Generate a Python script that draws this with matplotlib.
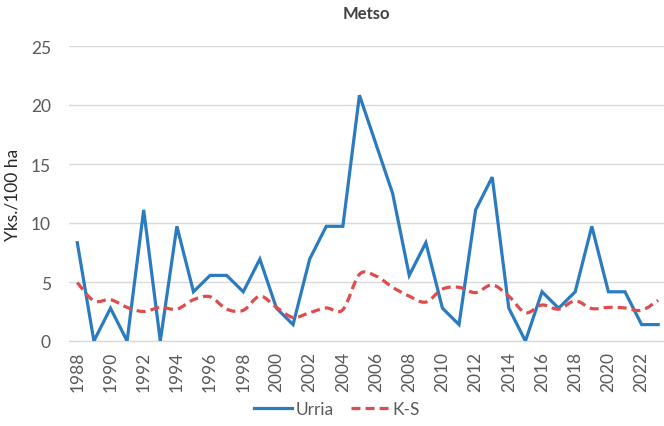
import numpy as np
import matplotlib.pyplot as plt
from matplotlib.path import Path
from matplotlib.patches import PathPatch
from matplotlib.lines import Line2D

plt.rcParams['font.family'] = ['Lato', 'DejaVu Sans']

# data
years = list(range(1988, 2024))
urria = [8.33, 0, 2.78, 0, 11.11, 0, 9.72, 4.17, 5.56, 5.56, 4.17, 6.94,
         2.78, 1.39, 6.94, 9.72, 9.72, 20.83, 16.67, 12.5, 5.56, 8.33,
         2.78, 1.39, 11.11, 13.89, 2.78, 0, 4.17, 2.78, 4.17, 9.72,
         4.17, 4.17, 1.39, 1.39]
ks = [4.95, 3.4, 3.5, 2.85, 2.5, 2.85, 2.7, 3.5, 3.75, 2.7, 2.6, 3.8,
      2.85, 2.0, 2.4, 2.8, 2.65, 5.65, 5.5, 4.55, 3.8, 3.3,
      4.4, 4.55, 4.1, 4.75, 3.8, 2.4, 3.05, 2.7, 3.4, 2.75,
      2.85, 2.8, 2.6, 3.45]
xticks = list(range(1988, 2023, 2))

blue = '#2A7BBF'
red = '#E04B4B'
grey = '#595959'
dash = (0, (2.8, 1.6))

fig = plt.figure(figsize=(6.64, 4.27), dpi=100)
ax = fig.add_axes([69/664, 1 - 342/427, 1 - 69/664, (342-47)/427])

ax.plot(years, urria, color=blue, lw=2.3, solid_joinstyle='miter', zorder=3)

# smoothed dashed line (bezier through the points, like Excel's smoothed line)
def smooth_path(x, y):
    pts = np.column_stack([x, y]).astype(float)
    n = len(pts)
    verts = [pts[0]]
    codes = [Path.MOVETO]
    for i in range(n - 1):
        p0 = pts[max(i - 1, 0)]
        p1 = pts[i]
        p2 = pts[i + 1]
        p3 = pts[min(i + 2, n - 1)]
        c1 = p1 + (p2 - p0) / 6
        c2 = p2 - (p3 - p1) / 6
        verts += [c1, c2, p2]
        codes += [Path.CURVE4] * 3
    return Path(verts, codes)

patch = PathPatch(smooth_path(years, ks), facecolor='none', edgecolor=red,
                  lw=2.3, linestyle=dash, zorder=4)
ax.add_patch(patch)

ax.set_xlim(1987.5, 2023.35)
ax.set_ylim(0, 25)
ax.set_yticks([0, 5, 10, 15, 20, 25])
ax.set_xticks(xticks)
ax.set_xticklabels([str(t) for t in xticks], rotation=90)
ax.tick_params(axis='both', length=0, labelsize=12.5, colors=grey)
ax.tick_params(axis='y', pad=13)
ax.tick_params(axis='x', pad=7)
ax.grid(axis='y', color='#D9D9D9', lw=1)
ax.set_axisbelow(True)
for s in ['top', 'right', 'left']:
    ax.spines[s].set_visible(False)
ax.spines['bottom'].set_color('#D9D9D9')
ax.spines['bottom'].set_linewidth(1)

fig.text(366/664, 1 - 14/427, 'Metso', ha='center', va='center',
         fontsize=12, fontweight='bold', color='#404040')
fig.text(13/664, 1 - 195/427, 'Yks./100 ha', rotation=90, ha='center',
         va='center', fontsize=12.5, color='#262626')

handles = [Line2D([], [], color=blue, lw=2.3),
           Line2D([], [], color=red, lw=2.3, linestyle=dash)]
fig.legend(handles, ['Urria', 'K-S'], loc='center', ncol=2,
           bbox_to_anchor=(337/664, 1 - 410/427), frameon=False,
           fontsize=12.5, handlelength=2.2, handletextpad=0.2,
           columnspacing=1.0, labelcolor=grey)

fig.savefig('out.png', dpi=100)
